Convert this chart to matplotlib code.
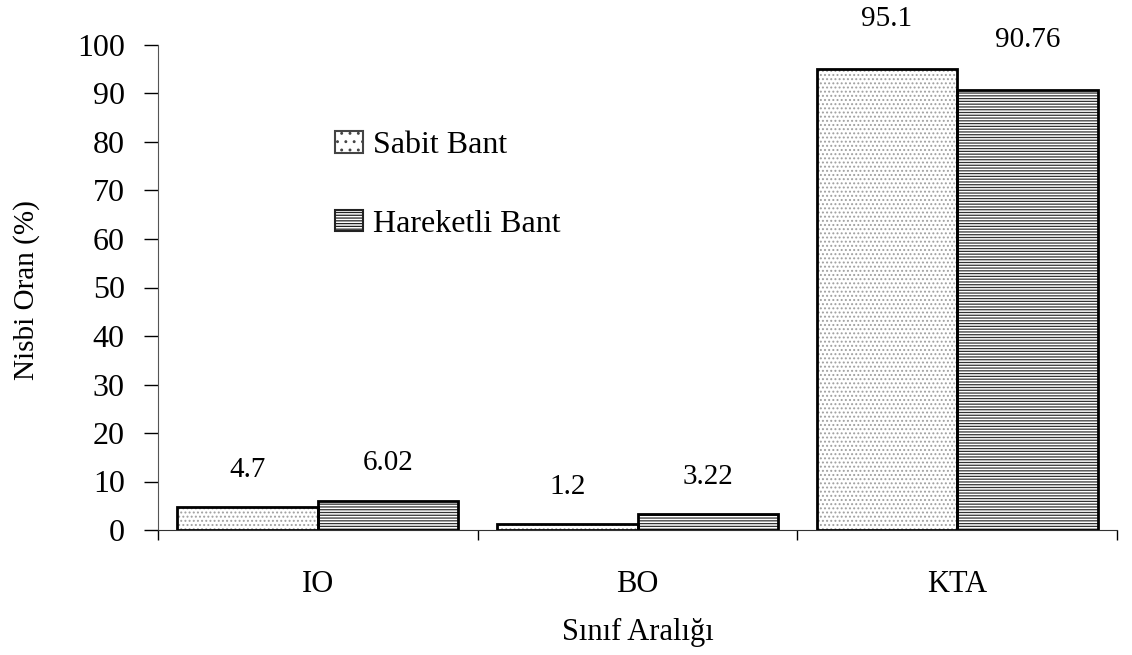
import numpy as np
import matplotlib
matplotlib.use('Agg')
import matplotlib.pyplot as plt

# data
categories = ['IO', 'BO', 'KTA']
sabit = [4.7, 1.2, 95.1]
hareketli = [6.02, 3.22, 90.76]
series_names = ['Sabit Bant', 'Hareketli Bant']

plt.rcParams['font.family'] = ['Liberation Serif', 'DejaVu Serif']
plt.rcParams['hatch.linewidth'] = 0.9

fig = plt.figure(figsize=(11.32, 6.55), dpi=100)
# axes: x from px 158 to 1117, y=0 at px 530, y=100 at px 45
ax = fig.add_axes([158/1132, 1 - 530/655, 959/1132, 485/655])

x = np.arange(len(categories))
w = 0.44

# hatched fills first (gray hatch), then black outlines on top
ax.bar(x - w/2, sabit, w, color='white', edgecolor='#a0a0a0', hatch='....', linewidth=0)
ax.bar(x + w/2, hareketli, w, color='white', edgecolor='#333333', hatch='------', linewidth=0)
ax.bar(x - w/2, sabit, w, fill=False, edgecolor='black', linewidth=2)
ax.bar(x + w/2, hareketli, w, fill=False, edgecolor='black', linewidth=2)

# legend handles
h1 = plt.Rectangle((0, 0), 1, 1, facecolor='white', edgecolor='#444444', hatch='..', linewidth=1.5)
h2 = plt.Rectangle((0, 0), 1, 1, facecolor='white', edgecolor='#222222', hatch='------', linewidth=1.5)
leg = ax.legend([h1, h2], series_names, loc='upper left', bbox_to_anchor=(0.185, 0.822),
                frameon=False, fontsize=23, handlelength=0.85, handleheight=0.66,
                handletextpad=0.34, labelspacing=1.55, borderpad=0, borderaxespad=0)

# value labels
for xs, vals in ((x - w/2, sabit), (x + w/2, hareketli)):
    for xi, v in zip(xs, vals):
        off = 36 if v > 50 else 27
        ax.annotate('{:g}'.format(v), (xi, v), xytext=(0, off), textcoords='offset points',
                    ha='center', va='center', fontsize=21)

ax.set_xlim(-0.5, 2.5)
ax.set_ylim(0, 100)
ax.set_yticks(np.arange(0, 101, 10))
ax.set_xticks(x)
ax.set_xticklabels(categories, fontsize=22)
ax.set_xticks([-0.5, 0.5, 1.5, 2.5], minor=True)
ax.tick_params(axis='x', which='major', length=0, pad=29)
ax.tick_params(axis='x', which='minor', length=7, width=1, direction='out')
ax.tick_params(axis='y', labelsize=23, length=10, width=1, direction='out', pad=14)

for s in ['top', 'right']:
    ax.spines[s].set_visible(False)
ax.spines['left'].set_color('#555555')
ax.spines['bottom'].set_color('#333333')

ax.set_ylabel('Nisbi Oran (%)', fontsize=21, va='center')
ax.yaxis.set_label_coords(-0.1366, 0.495)
ax.set_xlabel('Sınıf Aralığı', fontsize=22, va='center')
ax.xaxis.set_label_coords(0.5, -0.212)

fig.savefig('out.png', dpi=100)
